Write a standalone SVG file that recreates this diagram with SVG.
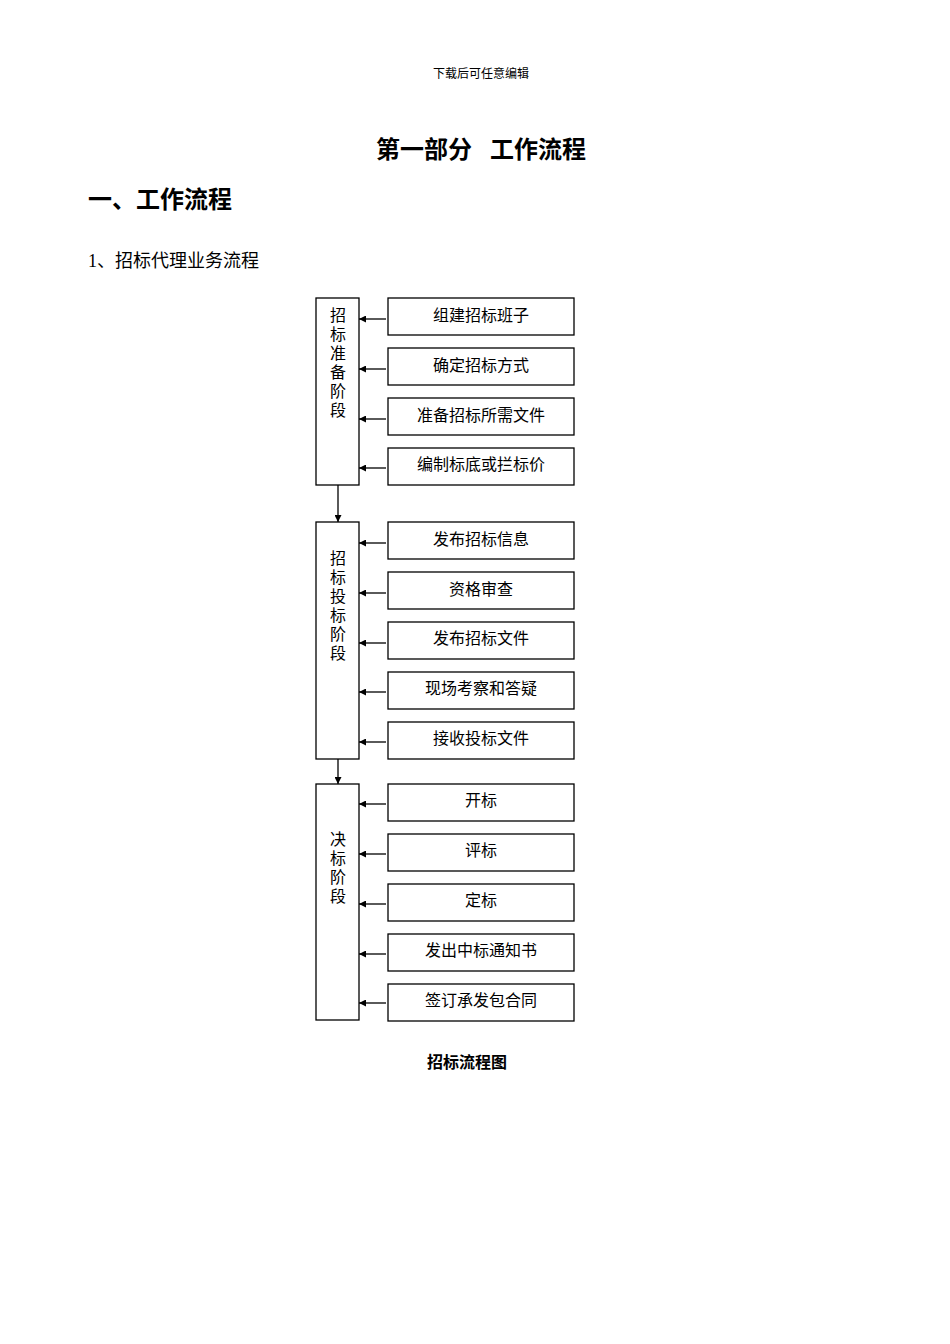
<svg xmlns="http://www.w3.org/2000/svg" width="950" height="1344" viewBox="0 0 950 1344">
<defs>
<style>
text{font-family:"Liberation Serif","Noto Sans CJK SC",serif;fill:#000}
.b{fill:#fff;stroke:#000;stroke-width:1.3}
.t{font-size:16px;text-anchor:middle}
.c{stroke:#000;stroke-width:1.3;fill:none;marker-end:url(#a)}
</style>
<marker id="a" viewBox="0 0 10 10" refX="10" refY="5" markerWidth="7" markerHeight="7" orient="auto" markerUnits="userSpaceOnUse"><path d="M0,0L10,5L0,10z" fill="#000"/></marker>
</defs>
<rect width="950" height="1344" fill="#fff"/>
<text x="481" y="78" font-size="12" text-anchor="middle">下载后可任意编辑</text>
<text x="481" y="158" font-size="24" font-weight="bold" text-anchor="middle" xml:space="preserve">第一部分   工作流程</text>
<text x="88" y="208" font-size="24" font-weight="bold">一、工作流程</text>
<text x="88" y="267" font-size="18">1、招标代理业务流程</text>
<g id="p1"><rect class="b" x="316" y="298" width="43" height="187"/>
<text class="t"><tspan x="338" y="321">招</tspan><tspan x="338" y="340">标</tspan><tspan x="338" y="359">准</tspan><tspan x="338" y="378">备</tspan><tspan x="338" y="397">阶</tspan><tspan x="338" y="416">段</tspan></text></g>
<g id="p2"><rect class="b" x="316" y="522" width="43" height="237"/>
<text class="t"><tspan x="338" y="564">招</tspan><tspan x="338" y="583">标</tspan><tspan x="338" y="602">投</tspan><tspan x="338" y="621">标</tspan><tspan x="338" y="640">阶</tspan><tspan x="338" y="659">段</tspan></text></g>
<g id="p3"><rect class="b" x="316" y="784" width="43" height="236"/>
<text class="t"><tspan x="338" y="845">决</tspan><tspan x="338" y="864">标</tspan><tspan x="338" y="883">阶</tspan><tspan x="338" y="902">段</tspan></text></g>
<g id="s1"><rect class="b" x="388" y="298" width="186" height="37"/><text class="t" x="481" y="321">组建招标班子</text></g>
<g id="s2"><rect class="b" x="388" y="348" width="186" height="37"/><text class="t" x="481" y="371">确定招标方式</text></g>
<g id="s3"><rect class="b" x="388" y="398" width="186" height="37"/><text class="t" x="481" y="421">准备招标所需文件</text></g>
<g id="s4"><rect class="b" x="388" y="448" width="186" height="37"/><text class="t" x="481" y="470">编制标底或拦标价</text></g>
<g id="s5"><rect class="b" x="388" y="522" width="186" height="37"/><text class="t" x="481" y="545">发布招标信息</text></g>
<g id="s6"><rect class="b" x="388" y="572" width="186" height="37"/><text class="t" x="481" y="595">资格审查</text></g>
<g id="s7"><rect class="b" x="388" y="622" width="186" height="37"/><text class="t" x="481" y="644">发布招标文件</text></g>
<g id="s8"><rect class="b" x="388" y="672" width="186" height="37"/><text class="t" x="481" y="694">现场考察和答疑</text></g>
<g id="s9"><rect class="b" x="388" y="722" width="186" height="37"/><text class="t" x="481" y="744">接收投标文件</text></g>
<g id="s10"><rect class="b" x="388" y="784" width="186" height="37"/><text class="t" x="481" y="806">开标</text></g>
<g id="s11"><rect class="b" x="388" y="834" width="186" height="37"/><text class="t" x="481" y="856">评标</text></g>
<g id="s12"><rect class="b" x="388" y="884" width="186" height="37"/><text class="t" x="481" y="906">定标</text></g>
<g id="s13"><rect class="b" x="388" y="934" width="186" height="37"/><text class="t" x="481" y="956">发出中标通知书</text></g>
<g id="s14"><rect class="b" x="388" y="984" width="186" height="37"/><text class="t" x="481" y="1006">签订承发包合同</text></g>
<g id="connectors">
<path class="c" d="M386 319H359"/><path class="c" d="M386 369H359"/><path class="c" d="M386 419H359"/><path class="c" d="M386 468H359"/>
<path class="c" d="M386 543H359"/><path class="c" d="M386 593H359"/><path class="c" d="M386 643H359"/><path class="c" d="M386 692H359"/><path class="c" d="M386 742H359"/>
<path class="c" d="M386 804H359"/><path class="c" d="M386 854H359"/><path class="c" d="M386 904H359"/><path class="c" d="M386 954H359"/><path class="c" d="M386 1003H359"/>
<path class="c" d="M338 485V522"/><path class="c" d="M338 759V784"/>
</g>
<text x="467" y="1068" font-size="16" font-weight="bold" text-anchor="middle">招标流程图</text>
</svg>
